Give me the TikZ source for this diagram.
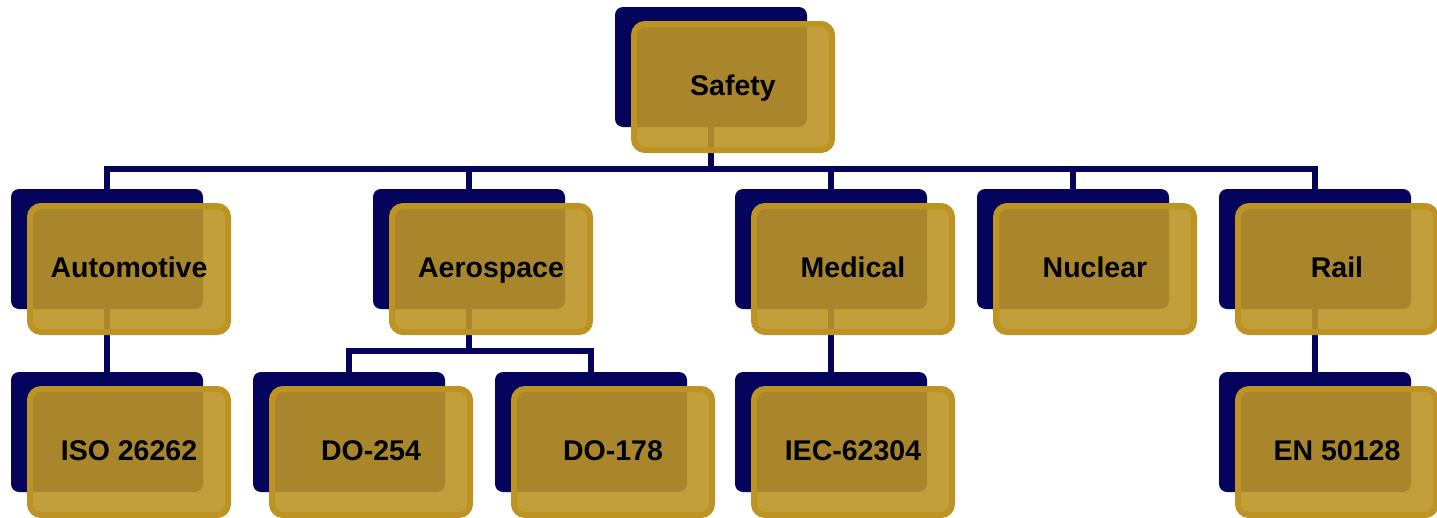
\documentclass[tikz,border=0pt]{standalone}
\usepackage{fontspec}
\setmainfont{Liberation Sans}
\definecolor{navy}{RGB}{4,4,92}
\definecolor{goldline}{RGB}{189,148,36}
\definecolor{goldfill}{RGB}{187,149,38}
\tikzset{
  backbox/.style={rectangle, rounded corners=8pt, fill=navy, draw=none,
    minimum width=192pt, minimum height=120pt, inner sep=0pt},
  frontbox/.style={rectangle, rounded corners=11pt, draw=goldline, line width=6pt,
    fill=goldfill, fill opacity=0.9, text opacity=1,
    minimum width=198pt, minimum height=126pt, inner sep=0pt,
    text height=20pt, text depth=4pt,
    font=\bfseries\fontsize{28.5}{32}\selectfont, text=black},
  conn/.style={draw=navy, line width=5.5pt, line join=miter}
}
\begin{document}
\begin{tikzpicture}[x=1pt,y=-1pt]
\useasboundingbox (0,0) rectangle (1437,517);
% back boxes
\node[backbox] (safetyB) at (711,67) {};
\node[backbox] (autoB) at (107,249) {};
\node[backbox] (aeroB) at (469,249) {};
\node[backbox] (medB) at (831,249) {};
\node[backbox] (nucB) at (1073,249) {};
\node[backbox] (railB) at (1315,249) {};
\node[backbox] (isoB) at (107,432) {};
\node[backbox] (dotwoB) at (349,432) {};
\node[backbox] (dooneB) at (591,432) {};
\node[backbox] (iecB) at (831,432) {};
\node[backbox] (enB) at (1315,432) {};
% connectors
\coordinate (bus) at (0,169);
\coordinate (bustwo) at (0,351);
\draw[conn] (autoB.north) -- (autoB.north |- bus) -- (railB.north |- bus) -- (railB.north);
\draw[conn] (safetyB.south) -- (safetyB.south |- bus);
\draw[conn] (aeroB.north) -- (aeroB.north |- bus);
\draw[conn] (medB.north) -- (medB.north |- bus);
\draw[conn] (nucB.north) -- (nucB.north |- bus);
\draw[conn] (autoB.south) -- (isoB.north);
\draw[conn] (medB.south) -- (iecB.north);
\draw[conn] (railB.south) -- (enB.north);
\draw[conn] (aeroB.south) -- (aeroB.south |- bustwo);
\draw[conn] (dotwoB.north) -- (dotwoB.north |- bustwo) -- (dooneB.north |- bustwo) -- (dooneB.north);
% front boxes
\node[frontbox] (safety) at (733,87) {Safety};
\node[frontbox] (auto) at (129,269) {Automotive};
\node[frontbox] (aero) at (491,269) {Aerospace};
\node[frontbox] (med) at (853,269) {Medical};
\node[frontbox] (nuc) at (1095,269) {Nuclear};
\node[frontbox] (rail) at (1337,269) {Rail};
\node[frontbox] (iso) at (129,452) {ISO 26262};
\node[frontbox] (dotwo) at (371,452) {DO-254};
\node[frontbox] (doone) at (613,452) {DO-178};
\node[frontbox] (iec) at (853,452) {IEC-62304};
\node[frontbox] (en) at (1337,452) {EN 50128};
\end{tikzpicture}
\end{document}
